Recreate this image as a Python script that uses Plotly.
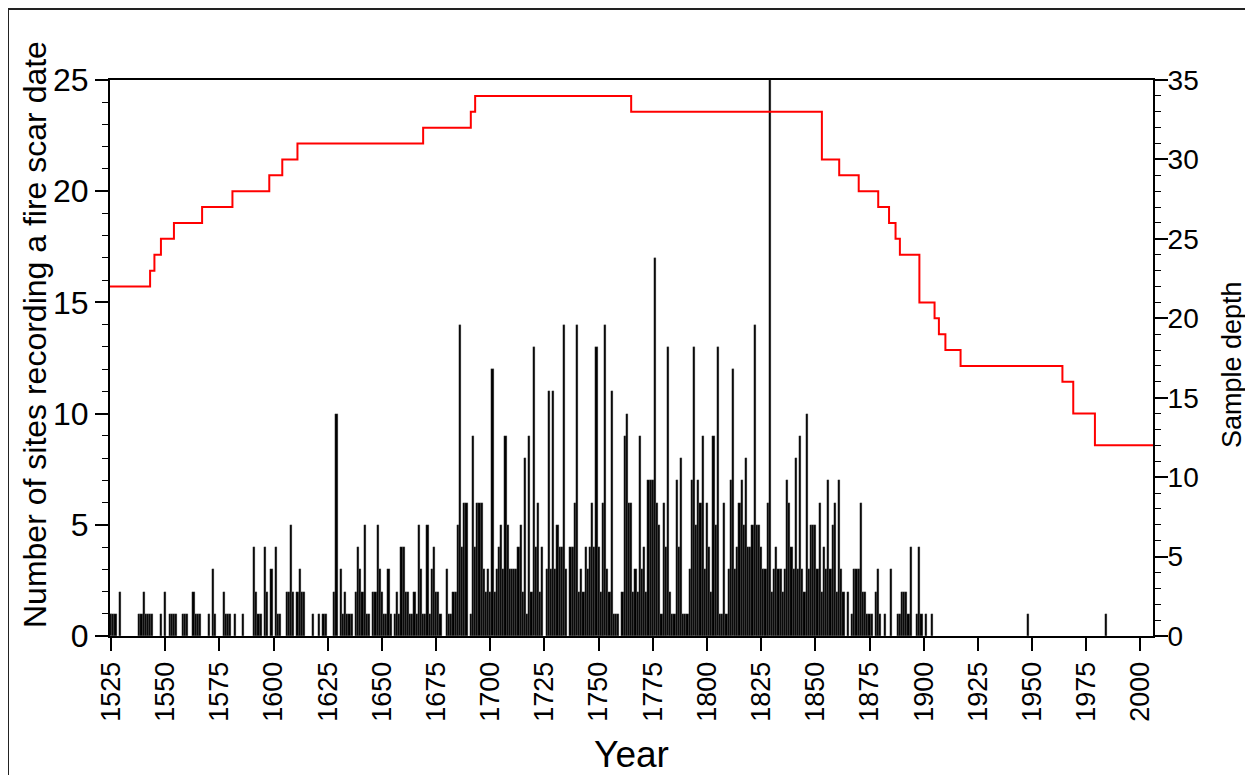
import plotly.graph_objects as go

# ---- Data ----
fire_years = [
    1525, 1526, 1527, 1529,
    1538, 1539, 1540, 1541, 1542, 1543, 1544,
    1548, 1550, 1552, 1553, 1554, 1555, 1558, 1559, 1560,
    1563, 1564, 1565, 1566, 1570, 1572, 1573,
    1577, 1578, 1579, 1580, 1582, 1586,
    1591, 1592, 1593, 1594, 1596, 1597, 1599, 1601, 1602, 1603,
    1606, 1607, 1608, 1609, 1611, 1612, 1613, 1614,
    1618, 1621, 1623, 1624,
    1628, 1629, 1631, 1632, 1633, 1634, 1635, 1636,
    1638, 1639, 1640, 1641, 1642, 1643, 1644,
    1646, 1647, 1648, 1649, 1650, 1651, 1652, 1653, 1654,
    1656, 1657, 1658, 1659, 1660, 1661, 1662, 1663,
    1664, 1665, 1666, 1667, 1668, 1669, 1670, 1671, 1672, 1673, 1674, 1675, 1676, 1677,
    1680, 1681, 1682, 1683, 1684, 1685, 1686, 1687, 1688, 1689, 1691, 1692, 1693, 1694,
    1695, 1696, 1697, 1698, 1699, 1700, 1701, 1702, 1703, 1704, 1705, 1706, 1707, 1708,
    1709, 1710, 1711, 1712, 1713, 1714, 1715, 1716, 1717, 1718, 1719, 1720,
    1721, 1722, 1723, 1724, 1726, 1727, 1728, 1729, 1730, 1731, 1732, 1733, 1734, 1735,
    1737, 1738, 1739, 1740, 1741, 1742, 1743, 1744, 1745, 1746, 1747, 1748, 1749, 1750,
    1751, 1752, 1753, 1754, 1755, 1756, 1757, 1758, 1759,
    1761, 1762, 1763, 1764, 1765, 1766, 1767, 1768, 1769, 1770, 1771, 1772, 1773, 1774,
    1775, 1776, 1777, 1778, 1779, 1780, 1781, 1782, 1783, 1784, 1785, 1786, 1787, 1788,
    1789, 1790, 1791, 1792, 1793, 1794, 1795, 1796, 1797, 1798, 1799, 1800, 1801, 1802,
    1803, 1804, 1805, 1806, 1807, 1808, 1809, 1810, 1811, 1812, 1813, 1814, 1815, 1816,
    1817, 1818, 1819, 1820, 1821, 1822, 1823, 1824, 1825, 1826, 1827, 1828, 1829, 1830,
    1831, 1832, 1833, 1834, 1835, 1836, 1837, 1838, 1839, 1840, 1841, 1842, 1843, 1844,
    1845, 1846, 1847, 1848, 1849, 1850, 1851, 1852, 1853, 1854, 1855, 1856, 1857, 1858,
    1859, 1860, 1861, 1862, 1863, 1865, 1867, 1868, 1869, 1870, 1871, 1872, 1873, 1874,
    1875, 1876, 1878, 1879, 1880, 1882, 1885, 1888, 1889, 1890, 1891, 1892, 1893, 1894,
    1897, 1898, 1899, 1901, 1904, 1948, 1984,
]
fire_sites = [
    1, 1, 1, 2,
    1, 1, 2, 1, 1, 1, 1,
    1, 2, 1, 1, 1, 1, 1, 1, 1,
    2, 1, 1, 1, 1, 3, 1,
    2, 1, 1, 1, 1, 1,
    4, 2, 1, 1, 4, 2, 3, 4, 1, 1,
    2, 2, 5, 2, 2, 3, 2, 2,
    1, 1, 1, 1,
    2, 10, 3, 1, 2, 1, 1, 1,
    2, 4, 3, 2, 5, 1, 1,
    2, 2, 5, 3, 2, 1, 1, 3, 1,
    1, 2, 1, 4, 4, 2, 2, 1,
    1, 2, 1, 5, 3, 1, 1, 5, 1, 3, 4, 2, 2, 1,
    3, 1, 1, 2, 2, 5, 14, 4, 6, 6, 1, 9, 4, 6,
    6, 6, 3, 2, 3, 2, 12, 2, 3, 4, 5, 3, 9, 5,
    3, 3, 3, 3, 4, 5, 2, 8, 1, 9, 2, 13,
    4, 6, 2, 4, 3, 11, 3, 11, 3, 5, 4, 4, 14, 3,
    4, 4, 6, 14, 2, 3, 2, 4, 3, 4, 6, 4, 13, 4,
    2, 6, 14, 3, 2, 11, 1, 1, 1,
    2, 9, 10, 6, 6, 2, 3, 2, 9, 3, 4, 2, 7, 7,
    7, 17, 6, 5, 1, 6, 4, 13, 2, 1, 1, 7, 4, 8,
    1, 1, 1, 3, 7, 13, 5, 7, 6, 9, 3, 6, 4, 2,
    9, 5, 13, 1, 1, 6, 1, 3, 7, 12, 3, 4, 6, 7,
    5, 8, 4, 4, 5, 14, 5, 5, 4, 3, 3, 6, 25, 2,
    3, 4, 3, 3, 2, 3, 7, 6, 4, 3, 8, 3, 9, 3,
    2, 10, 3, 5, 5, 5, 3, 6, 2, 4, 3, 7, 3, 5,
    6, 2, 7, 3, 2, 2, 1, 3, 3, 3, 6, 2, 2, 1,
    1, 1, 2, 3, 1, 1, 3, 1, 1, 2, 2, 2, 1, 4,
    1, 4, 1, 1, 1, 1, 1,
]

depth_years = [1524.5, 1543, 1545, 1548, 1554, 1567, 1581, 1598, 1604, 1611, 1669,
               1691, 1693, 1765, 1853, 1861, 1870, 1879, 1884, 1887, 1889, 1898,
               1905, 1907, 1910, 1917, 1964, 1969, 1979, 2006]
depth_values = [22, 23, 24, 25, 26, 27, 28, 29, 30, 31, 32,
                33, 34, 33, 30, 29, 28, 27, 26, 25, 24, 21,
                20, 19, 18, 17, 16, 14, 12, 12]

year_ticks = [1525, 1550, 1575, 1600, 1625, 1650, 1675, 1700, 1725, 1750,
              1775, 1800, 1825, 1850, 1875, 1900, 1925, 1950, 1975, 2000]

FONT = "Liberation Sans, Arial, sans-serif"

# the page body has an 8px margin: figure pixel = page pixel - 8
ML, MT = 102, 72          # plot area starts at page (110, 80)
PW, PH = 1043, 556        # plot area size
FW, FH = 1245, 767


def px_x(fx):
    return (fx - ML) / PW


def px_y(fy):
    return (MT + PH - fy) / PH


fig = go.Figure()
fig.add_trace(go.Bar(
    x=fire_years, y=fire_sites, width=1,
    marker=dict(color="black", line=dict(color="#6a6a6a", width=0.3)),
    yaxis="y", showlegend=False,
))
fig.add_trace(go.Scatter(
    x=depth_years, y=depth_values, mode="lines",
    line=dict(color="#ff0000", width=2, shape="hv"),
    yaxis="y2", showlegend=False,
))

axis_common = dict(
    showgrid=False, zeroline=False, showline=True, linecolor="black", linewidth=2,
    ticks="outside", ticklen=13, tickwidth=1.5, tickcolor="black", automargin=False,
)

fig.update_layout(
    width=FW, height=FH,
    margin=dict(l=ML, r=FW - ML - PW, t=MT, b=FH - MT - PH),
    paper_bgcolor="white", plot_bgcolor="white",
    font=dict(family=FONT, color="black"),
    showlegend=False,
    bargap=0, bargroupgap=0,
    xaxis=dict(
        **axis_common,
        range=[1524.5, 2005.8], tickmode="array", tickvals=year_ticks,
        ticktext=[str(y) for y in year_ticks], tickangle=-90,
        tickfont=dict(size=27, family=FONT), mirror=True,
        title=dict(text="Year", font=dict(size=37, family=FONT), standoff=20),
    ),
    yaxis=dict(
        **axis_common,
        range=[0, 25], tickmode="linear", tick0=0, dtick=5,
        minor=dict(dtick=1, ticks="outside", ticklen=6, tickcolor="black", tickwidth=1),
        tickfont=dict(size=32, family=FONT),
    ),
    yaxis2=dict(
        **axis_common,
        overlaying="y", side="right",
        range=[0, 35], tickmode="linear", tick0=0, dtick=5,
        minor=dict(dtick=1, ticks="outside", ticklen=6, tickcolor="black", tickwidth=1),
        tickfont=dict(size=28, family=FONT), ticklabelstandoff=-6,
    ),
    annotations=[
        dict(text="Number of sites recording a fire scar date", textangle=-90,
             xref="paper", yref="paper", x=px_x(27), y=px_y(327),
             xanchor="center", yanchor="middle", showarrow=False,
             font=dict(size=32, family=FONT, color="black")),
        dict(text="Sample depth", textangle=-90,
             xref="paper", yref="paper", x=px_x(1224), y=px_y(357),
             xanchor="center", yanchor="middle", showarrow=False,
             font=dict(size=27, family=FONT, color="black")),
    ],
    shapes=[dict(
        type="rect", xref="paper", yref="paper",
        x0=px_x(0), x1=px_x(1242), y0=px_y(800), y1=px_y(1),
        line=dict(color="#222222", width=2), fillcolor="rgba(0,0,0,0)", layer="below",
    )],
)

fig.write_html("out.html")
